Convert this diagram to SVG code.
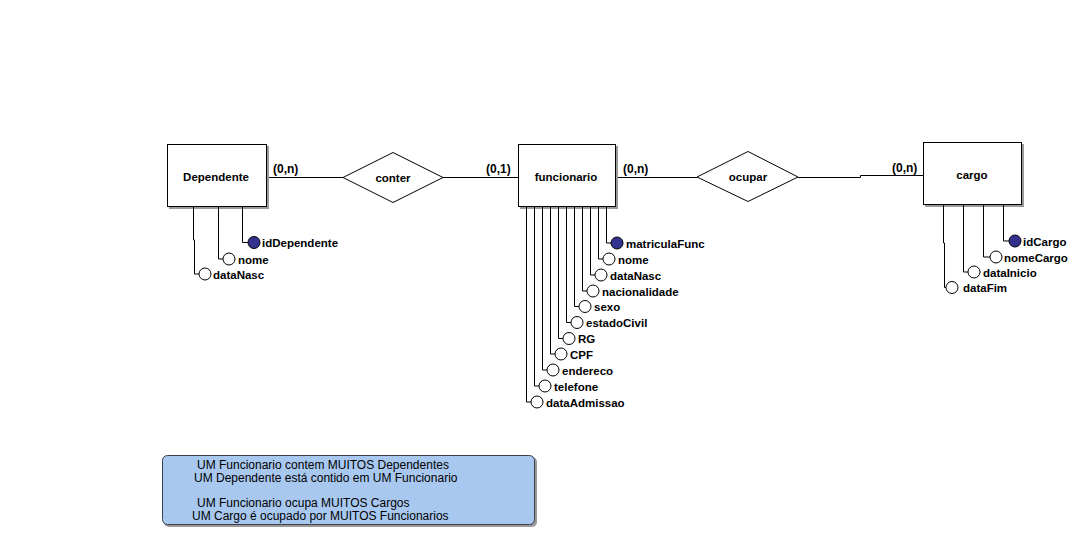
<svg xmlns="http://www.w3.org/2000/svg" width="1080" height="534" viewBox="0 0 1080 534">
<style>
.lbl{font-family:"Liberation Sans",Arial,sans-serif;font-weight:bold;font-size:11.5px;fill:#000}
.card{font-family:"Liberation Sans",Arial,sans-serif;font-weight:bold;font-size:12px;fill:#000}
.note{font-family:"Liberation Sans",Arial,sans-serif;font-size:12px;fill:#000}
.ent{fill:#fff;stroke:#000;stroke-width:1}
.sh{fill:#9a9a9a}
.rel{fill:#fff;stroke:#000;stroke-width:1}
.ln{fill:none;stroke:#000;stroke-width:1}
.att{fill:#fff;stroke:#000;stroke-width:1}
.key{fill:#33338f;stroke:#000;stroke-width:1}
</style>
<rect width="1080" height="534" fill="#fff"/>
<g id="connectors">
<path class="ln" d="M267.5,177.5 H343"/>
<path class="ln" d="M443,177.5 H518"/>
<path class="ln" d="M616.5,177.5 H697"/>
<path class="ln" d="M798,177.5 H860.5 V175.5 H923"/>
<text class="card" x="273" y="173">(0,n)</text>
<text class="card" x="486" y="173">(0,1)</text>
<text class="card" x="623" y="173">(0,n)</text>
<text class="card" x="892" y="172">(0,n)</text>
</g>
<g id="Dependente">
<rect class="sh" x="169" y="146" width="100" height="63"/>
<rect class="ent" x="167.5" y="144.5" width="99" height="62"/>
<text class="lbl" x="216" y="181" text-anchor="middle">Dependente</text>
</g>
<g id="Dependente-attrs">
<path class="ln" d="M242.5,207 V242.5 H248"/>
<circle class="key" cx="254" cy="242.5" r="6"/>
<text class="lbl" x="262" y="247">idDependente</text>
<path class="ln" d="M218.5,207 V259 H223"/>
<circle class="att" cx="229" cy="259" r="6"/>
<text class="lbl" x="238" y="263.5">nome</text>
<path class="ln" d="M193.5,207 V240 H194.5 V274 H199"/>
<circle class="att" cx="205" cy="274" r="6"/>
<text class="lbl" x="213" y="278.5">dataNasc</text>
</g>
<g id="conter">
<polygon class="rel" points="343,177.5 393,152.5 443,177.5 393,202.5"/>
<text class="lbl" x="393" y="181.5" text-anchor="middle">conter</text>
</g>
<g id="funcionario">
<rect class="sh" x="520" y="146" width="98" height="63"/>
<rect class="ent" x="518.5" y="144.5" width="97" height="62"/>
<text class="lbl" x="566" y="181" text-anchor="middle">funcionario</text>
</g>
<g id="funcionario-attrs">
<path class="ln" d="M606.5,207 V243 H611"/><circle class="key" cx="617" cy="243" r="6"/><text class="lbl" x="626" y="247.5">matriculaFunc</text>
<path class="ln" d="M598.5,207 V259 H603"/><circle class="att" cx="609" cy="259" r="6"/><text class="lbl" x="618" y="263.5">nome</text>
<path class="ln" d="M590.5,207 V275 H595"/><circle class="att" cx="601" cy="275" r="6"/><text class="lbl" x="610" y="279.5">dataNasc</text>
<path class="ln" d="M582.5,207 V291 H587"/><circle class="att" cx="593" cy="291" r="6"/><text class="lbl" x="602" y="295.5">nacionalidade</text>
<path class="ln" d="M574.5,207 V306.5 H579"/><circle class="att" cx="585" cy="306.5" r="6"/><text class="lbl" x="594" y="311">sexo</text>
<path class="ln" d="M566.5,207 V322.5 H571"/><circle class="att" cx="577" cy="322.5" r="6"/><text class="lbl" x="586" y="327">estadoCivil</text>
<path class="ln" d="M558.5,207 V338.5 H563"/><circle class="att" cx="569" cy="338.5" r="6"/><text class="lbl" x="578" y="343">RG</text>
<path class="ln" d="M550.5,207 V354 H555"/><circle class="att" cx="561" cy="354" r="6"/><text class="lbl" x="570" y="358.5">CPF</text>
<path class="ln" d="M542.5,207 V370 H547"/><circle class="att" cx="553" cy="370" r="6"/><text class="lbl" x="562" y="374.5">endereco</text>
<path class="ln" d="M534.5,207 V386 H539"/><circle class="att" cx="545" cy="386" r="6"/><text class="lbl" x="554" y="390.5">telefone</text>
<path class="ln" d="M526.5,207 V402 H531"/><circle class="att" cx="537" cy="402" r="6"/><text class="lbl" x="546" y="406.5">dataAdmissao</text>
</g>
<g id="ocupar">
<polygon class="rel" points="697,177 748,151.5 798,177 748,201.5"/>
<text class="lbl" x="748" y="181" text-anchor="middle">ocupar</text>
</g>
<g id="cargo">
<rect class="sh" x="925" y="144" width="99" height="63"/>
<rect class="ent" x="923.5" y="142.5" width="98" height="62"/>
<text class="lbl" x="972" y="179" text-anchor="middle">cargo</text>
</g>
<g id="cargo-attrs">
<path class="ln" d="M1003.5,205 V241 H1009"/><circle class="key" cx="1015" cy="241" r="6"/><text class="lbl" x="1023" y="245.5">idCargo</text>
<path class="ln" d="M983.5,205 V257 H990"/><circle class="att" cx="996" cy="257" r="6"/><text class="lbl" x="1004" y="261.5">nomeCargo</text>
<path class="ln" d="M963.5,205 V272 H968"/><circle class="att" cx="974" cy="272" r="6"/><text class="lbl" x="983" y="276.5">dataInicio</text>
<path class="ln" d="M943.5,205 V243 H944.5 V287.5 H946"/><circle class="att" cx="952" cy="287.5" r="6"/><text class="lbl" x="963" y="292">dataFim</text>
</g>
<g id="note">
<rect x="164" y="457" width="373" height="70" rx="5" fill="#9a9a9a"/>
<rect x="162.5" y="455.5" width="372" height="69" rx="5" fill="#a8c8f0" stroke="#3a3f4a" stroke-width="1"/>
<text class="note" x="197" y="469">UM Funcionario contem MUITOS Dependentes</text>
<text class="note" x="194" y="481.5">UM Dependente está contido em UM Funcionario</text>
<text class="note" x="197" y="506.5">UM Funcionario ocupa MUITOS Cargos</text>
<text class="note" x="192" y="519.5">UM Cargo é ocupado por MUITOS Funcionarios</text>
</g>
</svg>
